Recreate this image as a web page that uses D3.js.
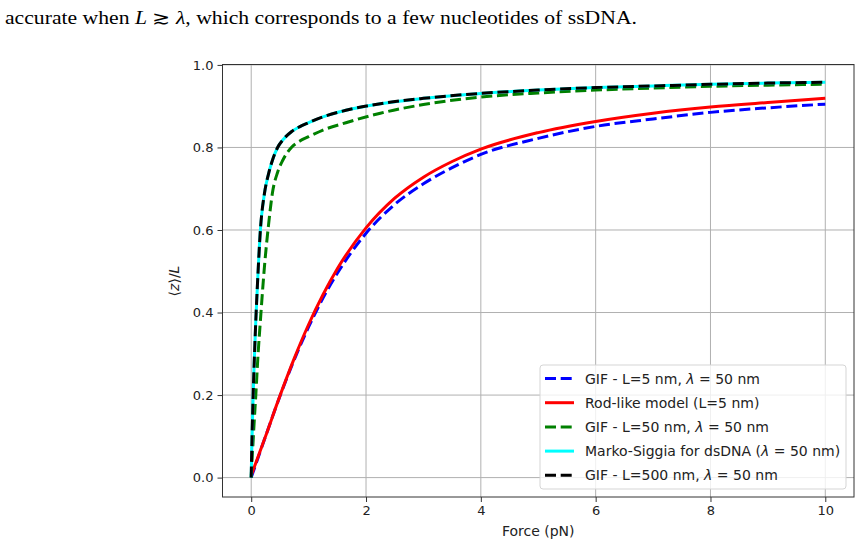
<!DOCTYPE html>
<html>
<head>
<meta charset="utf-8">
<script src="https://cdn.jsdelivr.net/npm/d3@7"></script>
<style>
  body { margin: 0; background: #fff; }
  svg { display: block; }
</style>
</head>
<body>
<svg id="chart" width="862" height="548"></svg>
<script>
// force grids (pN)
const forceRod = [0, 0.25, 0.5, 0.75, 1, 1.25, 1.5, 2, 2.5, 3, 3.5, 4, 5, 6, 7, 8, 9, 10];
const forceWlc = [0, 0.01, 0.03, 0.05, 0.08, 0.12, 0.16, 0.23, 0.3, 0.37, 0.46, 0.55, 0.7, 0.84, 1.0, 1.25, 1.65, 2.25, 3, 4, 5, 6, 7, 8, 9, 10];

// <z>/L
const gifL5 = [0, 0.10, 0.197, 0.286, 0.365, 0.435, 0.495, 0.592, 0.662, 0.712, 0.751, 0.783, 0.822, 0.851, 0.869, 0.885, 0.896, 0.905];
const rodL5 = [0.005, 0.10, 0.198, 0.289, 0.371, 0.443, 0.506, 0.605, 0.677, 0.728, 0.766, 0.796, 0.836, 0.863, 0.883, 0.898, 0.909, 0.919];
const gifL50 = [0, 0.03, 0.08, 0.13, 0.2, 0.3, 0.38, 0.51, 0.61, 0.69, 0.74, 0.769, 0.8, 0.815, 0.826, 0.842, 0.86, 0.883, 0.904, 0.922, 0.932, 0.939, 0.944, 0.948, 0.951, 0.953];
const markoSiggia = [0, 0.07, 0.18, 0.27, 0.38, 0.5, 0.6, 0.688, 0.735, 0.769, 0.8, 0.818, 0.838, 0.85, 0.86, 0.874, 0.89, 0.906, 0.919, 0.931, 0.939, 0.945, 0.949, 0.953, 0.956, 0.958];
const gifL500 = [0, 0.07, 0.18, 0.27, 0.38, 0.5, 0.6, 0.688, 0.735, 0.769, 0.8, 0.818, 0.838, 0.85, 0.86, 0.874, 0.89, 0.906, 0.919, 0.931, 0.939, 0.945, 0.949, 0.953, 0.956, 0.958];

const xTicks = [0, 2, 4, 6, 8, 10];
const yTicks = [0, 0.2, 0.4, 0.6, 0.8, 1.0];

const series = [
  { name: ["GIF - L=5 nm, ", "λ", " = 50 nm"], xs: forceRod, ys: gifL5, color: "blue", dash: true },
  { name: ["Rod-like model (L=5 nm)"], xs: forceRod, ys: rodL5, color: "red", dash: false },
  { name: ["GIF - L=50 nm, ", "λ", " = 50 nm"], xs: forceWlc, ys: gifL50, color: "green", dash: true },
  { name: ["Marko-Siggia for dsDNA (", "λ", " = 50 nm)"], xs: forceWlc, ys: markoSiggia, color: "cyan", dash: false },
  { name: ["GIF - L=500 nm, ", "λ", " = 50 nm"], xs: forceWlc, ys: gifL500, color: "black", dash: true }
];

const svg = d3.select("#chart");
const font = "'DejaVu Sans', sans-serif";

// header sentence from the surrounding document
const head = svg.append("text")
  .attr("x", 5).attr("y", 24)
  .style("font-family", "'Liberation Serif', serif")
  .style("font-size", "18px")
  .attr("textLength", 632)
  .attr("lengthAdjust", "spacingAndGlyphs");
head.append("tspan").text("accurate when ");
head.append("tspan").style("font-style", "italic").text("L");
head.append("tspan").text(" ≳ ");
head.append("tspan").style("font-style", "italic").text("λ");
head.append("tspan").text(", which corresponds to a few nucleotides of ssDNA.");

const margin = { left: 222.5, right: 854, top: 64.5, bottom: 497 };
const x = d3.scaleLinear().domain([-0.5, 10.5]).range([margin.left, margin.right]);
const y = d3.scaleLinear().domain([-0.047, 1.001]).range([margin.bottom, margin.top]);

// grid
const grid = svg.append("g");
grid.selectAll(".gx").data(xTicks).join("line")
  .attr("x1", d => x(d)).attr("x2", d => x(d))
  .attr("y1", margin.top).attr("y2", margin.bottom)
  .attr("stroke", "#b0b0b0").attr("stroke-width", 1);
grid.selectAll(".gy").data(yTicks).join("line")
  .attr("x1", margin.left).attr("x2", margin.right)
  .attr("y1", d => y(d)).attr("y2", d => y(d))
  .attr("stroke", "#b0b0b0").attr("stroke-width", 1);

// curves
svg.append("clipPath").attr("id", "plotClip")
  .append("rect")
  .attr("x", margin.left).attr("y", margin.top)
  .attr("width", margin.right - margin.left).attr("height", margin.bottom - margin.top);

const line = d3.line().x(d => x(d[0])).y(d => y(d[1])).curve(d3.curveMonotoneX);
const curves = svg.append("g").attr("clip-path", "url(#plotClip)");
series.forEach(s => {
  curves.append("path")
    .datum(s.xs.map((f, i) => [f, s.ys[i]]))
    .attr("d", line)
    .attr("fill", "none")
    .attr("stroke", s.color)
    .attr("stroke-width", 3)
    .attr("stroke-dasharray", s.dash ? "11,4.7" : null);
});

// axes
const xAxis = svg.append("g")
  .attr("transform", `translate(0,${margin.bottom})`)
  .call(d3.axisBottom(x).tickValues(xTicks).tickFormat(d3.format("d")).tickSize(5).tickPadding(4));
const yAxis = svg.append("g")
  .attr("transform", `translate(${margin.left},0)`)
  .call(d3.axisLeft(y).tickValues(yTicks).tickFormat(d3.format(".1f")).tickSize(5).tickPadding(4));
[xAxis, yAxis].forEach(a => {
  a.select(".domain").remove();
  a.selectAll("line").attr("stroke", "#333");
  a.selectAll("text").style("font-family", font).style("font-size", "13px").attr("fill", "#222");
});

// spines
svg.append("rect")
  .attr("x", margin.left).attr("y", margin.top)
  .attr("width", margin.right - margin.left).attr("height", margin.bottom - margin.top)
  .attr("fill", "none").attr("stroke", "#333").attr("stroke-width", 1);

// axis labels
svg.append("text")
  .attr("x", (margin.left + margin.right) / 2).attr("y", 536)
  .attr("text-anchor", "middle")
  .style("font-family", font).style("font-size", "14px").attr("fill", "#222")
  .text("Force (pN)");

const ylab = svg.append("text")
  .attr("transform", "translate(179,281) rotate(-90)")
  .attr("text-anchor", "middle")
  .style("font-family", font).style("font-size", "14px").attr("fill", "#222");
ylab.append("tspan").text("⟨");
ylab.append("tspan").style("font-style", "italic").text("z");
ylab.append("tspan").text("⟩/");
ylab.append("tspan").style("font-style", "italic").text("L");

// legend
const lg = svg.append("g");
lg.append("rect")
  .attr("x", 540).attr("y", 365).attr("width", 306).attr("height", 124)
  .attr("rx", 3).attr("fill", "#fff").attr("fill-opacity", 0.8)
  .attr("stroke", "#d5d5d5").attr("stroke-width", 1);
series.forEach((s, i) => {
  const yy = 378.5 + i * 24.2;
  lg.append("line")
    .attr("x1", 545).attr("x2", 574).attr("y1", yy).attr("y2", yy)
    .attr("stroke", s.color).attr("stroke-width", 3)
    .attr("stroke-dasharray", s.dash ? "11,4.7" : null);
  const t = lg.append("text")
    .attr("x", 585).attr("y", yy + 5)
    .style("font-family", font).style("font-size", "14px").attr("fill", "#222");
  s.name.forEach(part => {
    t.append("tspan").style("font-style", part === "λ" ? "italic" : null).text(part);
  });
});
</script>
</body>
</html>
